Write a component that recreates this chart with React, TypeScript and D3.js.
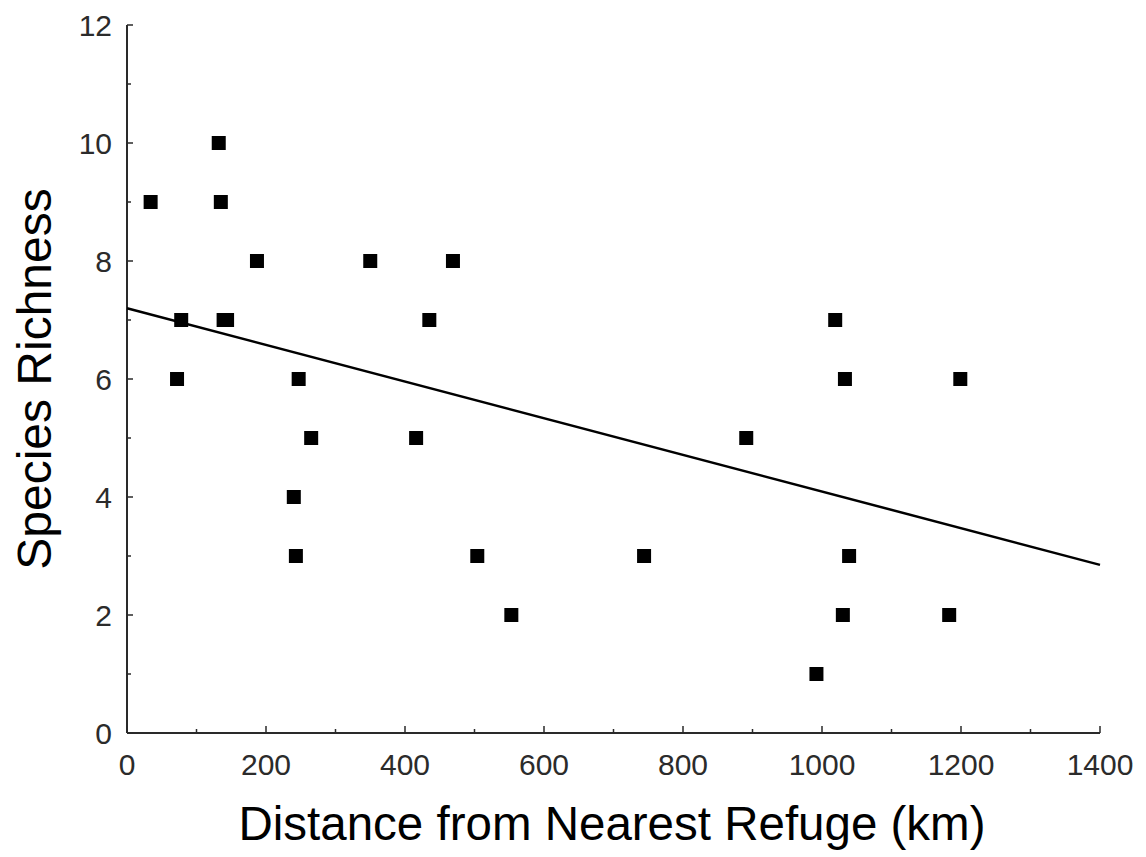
import React from "react";
import * as d3 from "d3";

const distanceKm = [34, 132, 135, 187, 78, 139, 144, 72, 247, 265, 240, 243, 350, 435, 469, 416, 504, 553, 744, 891, 1019, 1033, 1039, 1030, 992, 1199, 1183];
const richness = [9, 10, 9, 8, 7, 7, 7, 6, 6, 5, 4, 3, 8, 7, 8, 5, 3, 2, 3, 5, 7, 6, 3, 2, 1, 6, 2];
const fitX = [0, 1400];
const fitY = [7.2, 2.85];
const xMajor = [0, 200, 400, 600, 800, 1000, 1200, 1400];
const xMinor = [100, 300, 500, 700, 900, 1100, 1300];
const yMajor = [0, 2, 4, 6, 8, 10, 12];
const yMinor = [1, 3, 5, 7, 9, 11];

const W = 1146;
const H = 857;
const FONT = "'Liberation Sans', Arial, sans-serif";

export default function App() {
  const x = d3.scaleLinear().domain([0, 1400]).range([127, 1100]);
  const y = d3.scaleLinear().domain([0, 12]).range([733, 25]);
  const line = d3
    .line<number>()
    .x((d) => x(fitX[d]))
    .y((d) => y(fitY[d]));
  const sq = 14;
  const axisColor = "#2a2a2a";
  return (
    <svg
      width={W}
      height={H}
      style={{ position: "absolute", left: 0, top: 0, background: "#fff" }}
    >
      <rect x={0} y={0} width={W} height={H} fill="#fff" />
      {/* axes */}
      <line x1={x(0)} x2={x(0)} y1={y(0)} y2={y(12)} stroke={axisColor} strokeWidth={2} />
      <line x1={x(0)} x2={x(1400)} y1={y(0)} y2={y(0)} stroke={axisColor} strokeWidth={2} />
      {yMajor.map((v) => (
        <line key={"ym" + v} x1={x(0)} x2={x(0) + 6} y1={y(v)} y2={y(v)} stroke={axisColor} strokeWidth={1.5} />
      ))}
      {yMinor.map((v) => (
        <line key={"yn" + v} x1={x(0)} x2={x(0) + 4} y1={y(v)} y2={y(v)} stroke={axisColor} strokeWidth={1.5} />
      ))}
      {xMajor.map((v) => (
        <line key={"xm" + v} x1={x(v)} x2={x(v)} y1={y(0)} y2={y(0) - 7} stroke={axisColor} strokeWidth={1.5} />
      ))}
      {xMinor.map((v) => (
        <line key={"xn" + v} x1={x(v)} x2={x(v)} y1={y(0)} y2={y(0) - 4} stroke={axisColor} strokeWidth={1.5} />
      ))}
      {yMajor.map((v) => (
        <text
          key={"yl" + v}
          x={x(0) - 15}
          y={y(v) + 11}
          textAnchor="end"
          fontFamily={FONT}
          fontSize={30}
          fill="#2b2b2b"
        >
          {v}
        </text>
      ))}
      {xMajor.map((v) => (
        <text
          key={"xl" + v}
          x={x(v)}
          y={775}
          textAnchor="middle"
          fontFamily={FONT}
          fontSize={30}
          fill="#2b2b2b"
        >
          {v}
        </text>
      ))}
      {/* regression line */}
      <path d={line([0, 1]) || ""} fill="none" stroke="#000" strokeWidth={2.5} />
      {/* points */}
      {distanceKm.map((d, i) => (
        <rect
          key={"p" + i}
          x={x(d) - sq / 2}
          y={y(richness[i]) - sq / 2}
          width={sq}
          height={sq}
          fill="#000"
        />
      ))}
      {/* titles */}
      <text
        x={612}
        y={840}
        textAnchor="middle"
        fontFamily={FONT}
        fontSize={47.5}
        fill="#000"
      >
        Distance from Nearest Refuge (km)
      </text>
      <text
        transform={`translate(51, 379) rotate(-90)`}
        textAnchor="middle"
        fontFamily={FONT}
        fontSize={48}
        fill="#000"
      >
        Species Richness
      </text>
    </svg>
  );
}
